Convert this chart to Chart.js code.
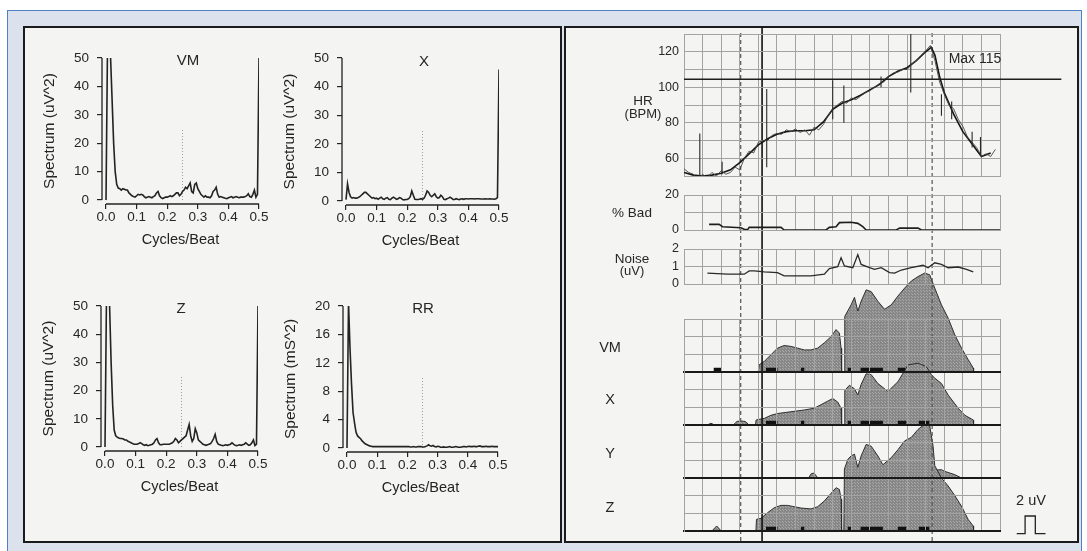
<!DOCTYPE html>
<html>
<head>
<meta charset="utf-8">
<script src="https://cdn.jsdelivr.net/npm/chart.js"></script>
<style>
  body { margin: 0; background: #fff; }
  #fig { position: relative; width: 1087px; height: 551px; overflow: hidden; background: #fff;
         font-family: "Liberation Sans", Arial, Helvetica, sans-serif; color: #262626; }
  .frame { position: absolute; left: 7px; top: 10px; width: 1073px; height: 545px;
           border: 1px solid #4f82c4; background: #dbe2ee; }
  .panel { position: absolute; border: 2px solid #1b1b1b; background: #f4f4f2; }
  canvas { position: absolute; }
  .lbl { position: absolute; transform: translate(-50%, -50%); white-space: nowrap; line-height: 1; }
</style>
</head>
<body>
<div id="fig">
  <div class="frame"></div>
  <div class="panel" style="left:23px;top:26px;width:535px;height:513px;"></div>
  <div class="panel" style="left:564px;top:26px;width:511px;height:513px;"></div>
</div>
<script>
// ---------- left panel: spectra, sampled every 0.005 cycles/beat ----------
const FREQ_STEP = 0.005;
const freqTicks = [0, 0.1, 0.2, 0.3, 0.4, 0.5];
const uvTicks = [0, 10, 20, 30, 40, 50];
const msTicks = [0, 4, 8, 12, 16, 20];
const markFreq = 0.25;           // dotted reference line
const markTopUv = 25, markTopMs = 10;

const vmSpectrum = [
  0, 55, 55, 50, 35, 20, 10, 5.5, 4.2, 4,
  3.5, 4, 3.8, 3.5, 3.5, 2.5, 2, 1.5, 1.2, 1,
  1.5, 2, 1.8, 2, 1.8, 1.2, 0.8, 1, 1.2, 1,
  0.8, 1.2, 1.5, 2.5, 3, 1.5, 0.8, 0.5, 0.8, 1,
  1, 1.2, 1.5, 1.2, 1.5, 2, 2.5, 2.5, 1.5, 2,
  3, 3.5, 4.5, 4, 5, 6, 3, 2.5, 5.5, 6,
  4, 3, 2, 1.5, 1, 1.5, 1, 1, 0.8, 1.5,
  3, 3.5, 4.5, 2, 1, 1.2, 1, 0.8, 0.6, 0.5,
  0.8, 1, 1.2, 0.8, 1, 1.2, 1, 0.8, 1, 1,
  1, 1.2, 1.5, 2.2, 1.2, 1, 2, 3.5, 1, 2,
  50];
const xSpectrum = [
  0.5, 6, 3, 1.5, 1, 1.2, 1, 1, 1.2, 1.5,
  2, 2.5, 3, 3, 2.5, 2, 1.5, 1, 1.2, 0.8,
  1, 0.6, 1, 1.3, 0.8, 0.6, 1, 1.2, 0.6, 0.5,
  1, 1.3, 1, 0.6, 0.8, 1.2, 1, 0.5, 0.4, 0.5,
  0.5, 0.8, 1.5, 3.5, 2, 0.6, 0.5, 0.5, 0.6, 0.8,
  0.6, 1, 2, 3.5, 3, 2, 1.5, 2, 2.5, 1.5,
  1, 1.2, 2, 1.5, 0.6, 0.5, 0.8, 1, 1.3, 1,
  0.5, 0.5, 0.8, 0.6, 0.5, 0.7, 0.8, 0.6, 0.8, 0.8,
  0.7, 0.8, 0.8, 0.8, 0.7, 0.8, 0.8, 0.8, 0.7, 0.7,
  0.7, 0.8, 0.7, 0.7, 0.8, 0.7, 0.7, 0.6, 0.8, 1.2,
  46];
const zSpectrum = [
  0, 55, 55, 50, 30, 15, 6, 4, 3.5, 3.2,
  3, 3, 2.8, 2.5, 2.5, 2, 1.8, 1.5, 1.2, 1,
  1, 1, 1.2, 1.5, 1.2, 0.8, 0.6, 0.8, 0.5, 0.6,
  0.8, 1, 1.5, 2.5, 3, 1.5, 0.8, 0.8, 1, 1,
  1, 1, 1, 1.2, 1.5, 2, 3, 2.5, 1.5, 2,
  2.5, 3, 3.5, 4, 6, 8, 4, 2, 3, 6.5,
  5, 2.5, 2, 1.5, 1, 0.8, 0.6, 0.8, 1, 1.2,
  2, 3, 4.5, 2, 1, 0.8, 0.6, 0.5, 0.6, 0.8,
  0.6, 0.8, 1, 1.5, 1, 0.6, 0.5, 0.6, 0.8, 0.6,
  0.8, 1, 1.5, 1, 0.6, 0.8, 1.5, 2.5, 0.5, 1,
  50];
const rrSpectrum = [
  0, 20.5, 14, 9, 5, 3.5, 2.2, 1.7, 1.5, 1.3,
  1, 0.8, 0.6, 0.5, 0.4, 0.3, 0.25, 0.2, 0.2, 0.2,
  0.2, 0.2, 0.2, 0.2, 0.2, 0.2, 0.2, 0.2, 0.2, 0.2,
  0.2, 0.2, 0.2, 0.2, 0.2, 0.2, 0.2, 0.2, 0.2, 0.2,
  0.2, 0.2, 0.15, 0.15, 0.2, 0.15, 0.15, 0.2, 0.2, 0.2,
  0.15, 0.15, 0.2, 0.3, 0.45, 0.3, 0.25, 0.35, 0.2, 0.15,
  0.25, 0.2, 0.1, 0.1, 0.15, 0.1, 0.1, 0.15, 0.2, 0.1,
  0.1, 0.15, 0.2, 0.15, 0.1, 0.1, 0.15, 0.2, 0.2, 0.15,
  0.2, 0.25, 0.2, 0.2, 0.25, 0.2, 0.2, 0.25, 0.3, 0.2,
  0.2, 0.2, 0.25, 0.2, 0.2, 0.2, 0.25, 0.2, 0.2, 0.2,
  0.2];

// ---------- right panel: time in grid cells ----------
const cellTicks = [0, 1, 2, 3, 4, 5, 6, 7, 8, 9, 10, 11, 12, 13, 14, 15, 16, 17];
const hrTicks = [50, 60, 70, 80, 90, 100, 110, 120, 130];
const hrLabels = [60, 80, 100, 120];
const badTicks = [0, 10, 20], badLabels = [0, 20];
const noiseTicks = [0, 1, 2], noiseLabels = [0, 1, 2];
const uvPanelTicks = [0, 2, 4, 6];

const hrSmoothT = [0, 0.5, 1, 1.5, 2, 2.5, 3, 3.5, 4, 4.5, 5, 5.5, 6, 6.5, 7, 7.5, 8, 8.5, 9, 9.5,
  10, 10.5, 11, 11.5, 12, 12.5, 13, 13.3, 13.5, 13.75, 14, 14.5, 15, 15.5, 16, 16.5];
const hrSmoothV = [52, 50.5, 50, 50.5, 51.5, 53.5, 57.5, 62.5, 67.5, 71, 73.5, 75, 75.5, 75.5, 76, 80.5, 87.5, 91, 93, 95.5,
  98.5, 101.5, 106, 109, 111, 115, 120, 122.5, 118, 106, 97, 85, 75, 68, 61, 63];
const HR_RAW_STEP = 0.25;
const hrRaw = [54, 52, 51, 48, 51, 49, 52, 50, 53, 51, 52, 55, 53.5, 60, 64, 63,
  69, 70, 70, 73, 74, 73.5, 76, 75, 76.5, 74.5, 76, 73, 77.5, 76, 79, 84,
  88, 90, 92, 91, 94, 93, 95, 97, 98, 100, 102, 103, 106, 108, 108.5, 110,
  110, 113, 115, 118, 120.5, 123.5, 115, 103, 96, 90, 88, 82, 78, 72, 69, 66,
  61, 62.5, 61, 65];
const spikeT = [0.85, 2.05, 4.45, 8.0, 8.6, 10.6, 12.2, 13.85, 14.4, 15.5, 15.95];
const spikeLo = [47, 51, 55, 82, 80, 100, 97, 84, 82, 66, 62];
const spikeHi = [74, 58, 99, 104, 101, 106, 131, 96, 92, 75, 72];
const hrLimit = 104.5, hrLimitEnd = 20.3;

const badT = [1.35, 1.89, 2.07, 3.06, 3.24, 3.42, 3.51, 5.22, 5.39, 7.64, 7.82, 8.18, 8.36, 8.99, 9.35, 9.62, 9.8, 11.42, 11.6, 12.59, 12.77, 17.0];
const badV = [3.2, 3.2, 1.9, 1.3, 0.4, 0.2, 1.5, 1.5, 0, 0, 1.5, 1.9, 4.2, 4.4, 3.8, 1.9, 0, 0, 1.1, 1.1, 0, 0];

const noiseT = [1.26, 2.34, 3.24, 3.51, 3.78, 4.32, 5.03, 5.39, 6.83, 7.55, 7.82, 8.27, 8.45, 8.63, 9.08, 9.35,
  9.53, 9.98, 10.25, 10.61, 11.06, 11.33, 11.69, 12.23, 12.86, 13.13, 13.49, 13.85, 14.21, 14.75, 15.2, 15.56];
const noiseV = [0.62, 0.56, 0.56, 0.75, 0.75, 0.69, 0.65, 0.47, 0.47, 0.56, 0.88, 0.99, 1.5, 1.03, 0.93, 1.68,
  1.12, 0.93, 0.84, 0.93, 0.65, 0.62, 0.8, 0.93, 1.07, 0.93, 1.21, 1.12, 0.93, 0.97, 0.84, 0.69];

const vmT = [0, 3.99, 4.05, 4.32, 4.68, 5.03, 5.39, 5.75, 6.11, 6.47, 6.83, 7.19, 7.55, 7.91, 8.18, 8.36, 8.45, 8.48, 8.62, 8.65,
  8.99, 9.17, 9.35, 9.53, 9.8, 10.07, 10.43, 10.79, 11.15, 11.51, 11.87, 12.23, 12.59, 12.95, 13.22, 13.49, 13.85, 14.21, 14.57, 14.93,
  15.29, 15.56, 15.58];
const vmV = [0, 0, 0.83, 1.2, 1.96, 2.7, 3.0, 2.9, 2.7, 2.5, 2.5, 2.7, 3.3, 4.0, 4.8, 4.4, 2.7, 0, 0, 6.3,
  7.6, 8.45, 6.9, 8.0, 9.3, 9.1, 8.0, 7.1, 7.6, 8.6, 9.5, 10.3, 10.8, 11.2, 11.0, 9.5, 7.6, 6.1, 4.2, 2.7,
  1.4, 0.45, 0];
const xT = [0, 1.25, 1.45, 1.65, 2.65, 2.85, 3.05, 3.3, 3.5, 3.85, 3.88, 4.32, 4.68, 5.03, 5.75, 6.47, 7.01, 7.37, 7.73, 8.0,
  8.27, 8.45, 8.48, 8.62, 8.65, 8.9, 9.17, 9.35, 9.53, 9.8, 10.07, 10.43, 10.97, 11.51, 12.05, 12.59, 13.04, 13.31, 13.49, 13.85,
  14.21, 14.75, 15.11, 15.56, 15.58];
const xV = [0, 0, 0.2, 0, 0, 0.4, 0.45, 0.4, 0, 0, 0.57, 0.75, 1.1, 1.3, 1.5, 1.7, 1.9, 2.3, 2.7, 3.0,
  2.6, 1.9, 0, 0, 3.9, 4.5, 4.1, 3.4, 4.6, 5.8, 5.7, 4.7, 3.8, 4.9, 6.8, 7.0, 6.6, 5.7, 5.3, 4.7,
  3.4, 1.9, 1.1, 0.57, 0];
const yT = [0, 6.7, 6.85, 7.0, 7.2, 13.4, 13.55, 13.85, 14.03, 14.57, 14.93];
const yV = [0, 0, 0.5, 0.55, 0, 0, 0.9, 0.94, 0.75, 0.38, 0];
const zT = [0, 1.5, 1.76, 2.0, 3.87, 3.9, 4.14, 4.5, 4.86, 5.22, 5.57, 5.93, 6.29, 6.83, 7.19, 7.55, 7.91, 8.18, 8.36, 8.45,
  8.48, 8.6, 8.63, 8.81, 8.99, 9.17, 9.35, 9.53, 9.8, 10.07, 10.43, 10.7, 11.15, 11.51, 11.87, 12.23, 12.59, 12.95, 13.22, 13.4,
  13.49, 13.85, 14.21, 14.57, 14.93, 15.29, 15.56, 15.58];
const zV = [0, 0, 0.57, 0, 0, 1.32, 1.43, 2.08, 2.64, 2.9, 2.9, 2.75, 2.6, 2.5, 2.75, 3.4, 4.26, 4.9, 4.7, 3.6,
  0, 0, 7.0, 8.1, 8.5, 8.7, 7.2, 8.5, 9.8, 9.6, 8.5, 7.5, 8.3, 9.2, 10.2, 10.6, 11.5, 12.1, 11.9, 9.6,
  7.4, 6.0, 5.1, 4.0, 2.8, 1.3, 0.57, 0];

const vmBlockStart = [1.6, 4.41, 6.29, 8.81, 9.5, 11.5];
const vmBlockEnd = [2.0, 5.03, 6.47, 8.99, 10.7, 11.9];
const leadBlockStart = [4.41, 6.29, 8.81, 9.5, 11.5, 12.63];
const leadBlockEnd = [5.03, 6.47, 8.99, 10.7, 11.96, 13.2];

const cursorT = [4.2];            // solid vertical cursor
const dashedT = [3.05, 13.35];    // dashed markers
const calT = [17.9, 18.35, 18.35, 18.9, 18.9, 19.45];
const calV = [-0.3, -0.3, 1.7, 1.7, -0.3, -0.3];

// ---------- helpers ----------
Chart.defaults.font.family = '"Liberation Sans", Arial, Helvetica, sans-serif';
Chart.defaults.color = '#262626';
Chart.defaults.animation = false;
Chart.defaults.responsive = false;
Chart.defaults.plugins.legend.display = false;
Chart.defaults.plugins.tooltip.enabled = false;
Chart.defaults.elements.point.radius = 0;
Chart.defaults.elements.line.tension = 0;

const fig = document.getElementById('fig');
const GRID = '#a3a3a3', INK = '#232323';

function addCanvas(l, t, w, h) {
  const c = document.createElement('canvas');
  c.width = Math.round(w); c.height = Math.round(h);
  c.style.left = Math.round(l) + 'px'; c.style.top = Math.round(t) + 'px';
  fig.appendChild(c);
  return c;
}
function addLabel(text, x, y, size) {
  const d = document.createElement('div');
  d.className = 'lbl';
  d.textContent = text;
  d.style.left = x + 'px'; d.style.top = y + 'px'; d.style.fontSize = size + 'px';
  fig.appendChild(d);
}
const zip = (t, v) => t.map((x, i) => ({x: x, y: v[i]}));
function segments(starts, ends, lo, hi) {
  const pts = [];
  starts.forEach((s, i) => {
    const e = ends[i];
    pts.push({x: s, y: Array.isArray(lo) ? lo[i] : lo}, {x: e, y: Array.isArray(hi) ? hi[i] : hi}, {x: e, y: null});
  });
  return pts;
}
// halftone-like grey used for the filled lead traces
function halftone() {
  const t = document.createElement('canvas');
  t.width = 3; t.height = 3;
  const g = t.getContext('2d');
  g.fillStyle = '#878787'; g.fillRect(0, 0, 3, 3);
  g.fillStyle = '#a9a9a9'; g.fillRect(0, 0, 1, 1); g.fillRect(2, 2, 1, 1);
  return g.createPattern(t, 'repeat');
}

// R-style axis lines that run from first to last tick only
const rAxes = {
  id: 'rAxes',
  afterDraw(chart) {
    const {ctx, chartArea: a, scales: {x, y}} = chart;
    ctx.save();
    ctx.strokeStyle = INK; ctx.lineWidth = 1.3;
    ctx.beginPath();
    ctx.moveTo(a.left, y.getPixelForValue(y.ticks[0].value));
    ctx.lineTo(a.left, y.getPixelForValue(y.ticks[y.ticks.length - 1].value));
    ctx.moveTo(x.getPixelForValue(x.ticks[0].value), a.bottom);
    ctx.lineTo(x.getPixelForValue(x.ticks[x.ticks.length - 1].value), a.bottom);
    ctx.stroke();
    ctx.restore();
  }
};

function spectrum(area, name, namePos, values, yTicks, yTitle, markTop) {
  const wY = 62, hX = 45, padT = 22, padR = 16, GAP = 4;
  const w = area.r - area.l, h = area.b - area.t;
  const xMax = freqTicks[freqTicks.length - 1], yMax = yTicks[yTicks.length - 1];
  const c = addCanvas(area.l - wY, area.t - padT, wY + w + padR, padT + h + hX);
  new Chart(c, {
    type: 'line',
    data: {datasets: [
      {data: values.map((v, i) => ({x: i * FREQ_STEP, y: v})), borderColor: INK, borderWidth: 1.6},
      {data: [{x: markFreq, y: 0}, {x: markFreq, y: markTop}], borderColor: '#9c9c9c', borderWidth: 1, borderDash: [1, 2]}
    ]},
    options: {
      layout: {padding: {top: padT, right: padR, left: 0, bottom: 0}},
      scales: {
        x: {
          type: 'linear', min: -GAP * xMax / (w - GAP), max: xMax,
          afterBuildTicks: s => { s.ticks = freqTicks.map(v => ({value: v})); },
          afterFit: s => { s.height = hX; },
          ticks: {callback: v => v.toFixed(1), padding: 0, autoSkip: false, maxRotation: 0, font: {size: 13.5}},
          grid: {drawOnChartArea: false, tickLength: 5, color: INK, lineWidth: 1.2},
          border: {display: false},
          title: {display: true, text: 'Cycles/Beat', padding: 0, font: {size: 14.5}, color: INK}
        },
        y: {
          type: 'linear', min: -GAP * yMax / (h - GAP), max: yMax,
          afterBuildTicks: s => { s.ticks = yTicks.map(v => ({value: v})); },
          afterFit: s => { s.width = wY; },
          ticks: {padding: 8, autoSkip: false, font: {size: 13.5}},
          grid: {drawOnChartArea: false, tickLength: 5, color: INK, lineWidth: 1.2},
          border: {display: false},
          title: {display: true, text: yTitle, padding: {top: 0, bottom: 0}, font: {size: 15.5}, color: INK}
        }
      }
    },
    plugins: [rAxes]
  });
  addLabel(name, namePos[0], namePos[1], 15);
}

spectrum({l: 102, r: 259, t: 58, b: 204}, 'VM', [188, 59], vmSpectrum, uvTicks, 'Spectrum (uV^2)', markTopUv);
spectrum({l: 342, r: 499, t: 58, b: 205}, 'X', [424, 60], xSpectrum, uvTicks, 'Spectrum (uV^2)', markTopUv);
spectrum({l: 101, r: 258, t: 306, b: 451}, 'Z', [181, 307], zSpectrum, uvTicks, 'Spectrum (uV^2)', markTopUv);
spectrum({l: 343, r: 498, t: 306, b: 452}, 'RR', [423, 307], rrSpectrum, msTicks, 'Spectrum (mS^2)', markTopMs);

// ---------- right panel ----------
const T_L = 684, T_R = 1000, T_MAX = cellTicks[cellTicks.length - 1];
const PANEL = {
  hr: {t: 34, b: 176}, bad: {t: 195, b: 230}, noise: {t: 249, b: 284},
  vm: {t: 319, b: 372}, x: {t: 372, b: 425}, y: {t: 425, b: 478}, z: {t: 478, b: 531}
};

// layer 1: filled lead traces, baseline blocks, cursors (one chart spanning the whole panel)
const TR = {t: 27, b: 541};
const trW = (T_R - T_L) + 62;
const trXMax = T_MAX * trW / (T_R - T_L);
const kUv = (PANEL.vm.b - PANEL.vm.t) / uvPanelTicks[uvPanelTicks.length - 1];   // px per uV
const leadScale = base => ({type: 'linear', display: false, min: -(TR.b - base) / kUv, max: (base - TR.t) / kUv});
const FILL = halftone();
const trace = (t, v, axis) => ({data: zip(t, v), yAxisID: axis, fill: 'origin', backgroundColor: FILL,
  borderColor: '#2e2e2e', borderWidth: 1});
const blocks = (s, e, axis) => ({data: segments(s, e, 0.25, 0.25), yAxisID: axis, borderColor: '#111',
  borderWidth: 4, borderCapStyle: 'butt', spanGaps: false});

new Chart(addCanvas(T_L, TR.t, trW, TR.b - TR.t), {
  type: 'line',
  data: {datasets: [
    {data: segments(cursorT, cursorT, 0, 1), yAxisID: 'm', borderColor: '#111', borderWidth: 1.6, spanGaps: false},
    {data: segments(dashedT, dashedT, 0, 0.993), yAxisID: 'm', borderColor: '#555', borderWidth: 1.2,
      borderDash: [4, 3], spanGaps: false},
    {data: zip(calT, calV), yAxisID: 'lz', borderColor: INK, borderWidth: 1.3},
    blocks(leadBlockStart, leadBlockEnd, 'lz'),
    blocks(leadBlockStart, leadBlockEnd, 'lx'),
    blocks(vmBlockStart, vmBlockEnd, 'lvm'),
    trace(zT, zV, 'lz'),
    trace(yT, yV, 'ly'),
    trace(xT, xV, 'lx'),
    trace(vmT, vmV, 'lvm')
  ]},
  options: {
    layout: {padding: 0},
    scales: {
      x: {type: 'linear', display: false, min: 0, max: trXMax},
      m: {type: 'linear', display: false, min: 0, max: 1},
      lvm: leadScale(PANEL.vm.b),
      lx: leadScale(PANEL.x.b),
      ly: leadScale(PANEL.y.b),
      lz: leadScale(PANEL.z.b)
    }
  }
});

// layer 2: gridded panels (drawn over the fills so the grid shows through lighter)
function panelChart(area, ticks, labels, datasets, opts) {
  opts = opts || {};
  const wY = 40, padT = 18, padB = 18, padR = opts.padR || 14;
  const c = addCanvas(T_L - wY, area.t - padT, wY + (T_R - T_L) + padR, padT + (area.b - area.t) + padB);
  new Chart(c, {
    type: 'line',
    data: {datasets: datasets},
    options: {
      layout: {padding: {left: 0, right: padR, top: padT, bottom: padB}},
      scales: {
        x: {
          type: 'linear', min: 0, max: T_MAX,
          afterBuildTicks: s => { s.ticks = cellTicks.map(v => ({value: v})); },
          afterFit: s => { s.height = 0; },
          ticks: {display: false},
          grid: {color: GRID, drawTicks: false},
          border: {color: opts.base ? '#1a1a1a' : GRID, width: opts.base ? 2 : 1}
        },
        y: {
          type: 'linear', min: ticks[0], max: ticks[ticks.length - 1],
          afterBuildTicks: s => { s.ticks = ticks.map(v => ({value: v})); },
          afterFit: s => { s.width = wY; },
          ticks: {display: labels.length > 0, padding: 5, autoSkip: false, font: {size: 12.5},
                  callback: v => labels.includes(v) ? String(v) : ''},
          grid: {color: GRID, drawTicks: false},
          border: {color: GRID}
        }
      }
    }
  });
}

panelChart(PANEL.z, uvPanelTicks, [], [], {base: true});
panelChart(PANEL.y, uvPanelTicks, [], [], {base: true});
panelChart(PANEL.x, uvPanelTicks, [], [], {base: true});
panelChart(PANEL.vm, uvPanelTicks, [], [], {base: true});

panelChart(PANEL.noise, noiseTicks, noiseLabels, [
  {data: zip(noiseT, noiseV), borderColor: '#2a2a2a', borderWidth: 1.3}
]);
panelChart(PANEL.bad, badTicks, badLabels, [
  {data: zip(badT, badV), borderColor: '#1e1e1e', borderWidth: 1.6}
]);
panelChart(PANEL.hr, hrTicks, hrLabels, [
  {data: [{x: 0, y: hrLimit}, {x: hrLimitEnd, y: hrLimit}], borderColor: '#1e1e1e', borderWidth: 1.5, clip: false},
  {data: segments(spikeT, spikeT, spikeLo, spikeHi), borderColor: '#2a2a2a', borderWidth: 1.1, spanGaps: false},
  {data: hrRaw.map((v, i) => ({x: i * HR_RAW_STEP, y: v})), borderColor: '#444', borderWidth: 0.9},
  {data: zip(hrSmoothT, hrSmoothV), borderColor: '#151515', borderWidth: 1.6}
], {padR: 70});

// text labels of the right panel
addLabel('HR', 643, 101, 13.5);
addLabel('(BPM)', 643, 113, 13);
addLabel('% Bad', 632, 213, 13.5);
addLabel('Noise', 632, 259, 13.5);
addLabel('(uV)', 632, 269.5, 13);
addLabel('VM', 610, 347, 14.5);
addLabel('X', 610, 399, 14.5);
addLabel('Y', 610, 453, 14.5);
addLabel('Z', 610, 507, 14.5);
addLabel('Max 115', 975, 58, 14);
addLabel('2 uV', 1031, 500, 14.5);
</script>
</body>
</html>
